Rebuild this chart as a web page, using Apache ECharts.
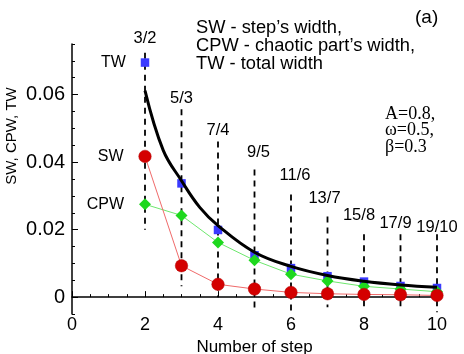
<!DOCTYPE html>
<html>
<head>
<meta charset="utf-8">
<script src="https://cdn.jsdelivr.net/npm/echarts@6.0.0/dist/echarts.min.js"></script>
<style>
  html, body { margin: 0; padding: 0; background: #fff; }
  #chart { width: 464px; height: 354px; }
</style>
</head>
<body>
<div id="chart"></div>
<script>
// step numbers and measured widths
const steps = [2, 3, 4, 5, 6, 7, 8, 9, 10]
const swValues = [0.0417, 0.0093, 0.0038, 0.0024, 0.0014, 0.0010, 0.0008, 0.0007, 0.0005]
const cpwValues = [0.0275, 0.0242, 0.0162, 0.0109, 0.0068, 0.0048, 0.0032, 0.0024, 0.0016]
const twValues = [0.0695, 0.0337, 0.0199, 0.0124, 0.0086, 0.0062, 0.0046, 0.0033, 0.0027]

// smooth fit of the total width
const fitX = [2, 2.5, 3, 3.5, 4, 5, 6, 7, 8, 9, 10]
const fitY = [0.0612, 0.0435, 0.0345, 0.0266, 0.0212, 0.0133, 0.0091, 0.0064, 0.0047, 0.0036, 0.0029]

// dashed resonance markers
const fractions = ['3/2', '5/3', '7/4', '9/5', '11/6', '13/7', '15/8', '17/9', '19/10']
const dashTop = [0.0724, 0.0557, 0.0461, 0.0378, 0.0304, 0.0239, 0.0186, 0.0186, 0.0186]
const dashBottom = [0.0200, 0.0032, 0.0000, -0.0035, -0.0045, -0.0030, -0.0040, -0.0035, -0.0045]

// axis ticks
const xTicks = [0, 2, 4, 6, 8, 10]
const yMajor = [0, 0.02, 0.04, 0.06]
const yMinor = [-0.005, 0, 0.005, 0.01, 0.015, 0.02, 0.025, 0.03, 0.035, 0.04, 0.045, 0.05, 0.055, 0.06, 0.065, 0.07, 0.075]

const sans = 'Liberation Sans'
const serif = 'Liberation Serif'

// label nudges for the fractions (layout only)
const fracShift = [[0, -3], [0, 0], [0, 0], [4, -6], [4, -8], [-3, -7], [-5, -8], [-5, 0], [0, 4]]

const dashSeries = steps.map((x, i) => ({
  type: 'line',
  silent: true,
  symbol: 'circle',
  symbolSize: 1,
  z: 1,
  itemStyle: { color: 'rgba(0,0,0,0)' },
  lineStyle: { color: '#000', width: 1.8, type: [6, 5] },
  data: [
    {
      value: [x, dashTop[i]],
      label: {
        show: true,
        position: 'top',
        distance: 2,
        offset: fracShift[i],
        formatter: fractions[i],
        fontFamily: sans,
        fontSize: 16.5,
        color: '#000'
      }
    },
    [x, dashBottom[i]]
  ]
}))

const sideLabel = (text) => ({
  show: true,
  position: 'left',
  distance: 15,
  formatter: text,
  fontFamily: sans,
  fontSize: 16,
  color: '#000'
})

const withFirstLabel = (values, text) => values.map((v, i) => {
  if (i === 0) return { value: [steps[i], v], label: sideLabel(text) }
  return [steps[i], v]
})

const chart = echarts.init(document.getElementById('chart'))

chart.setOption({
  animation: false,
  backgroundColor: '#fff',
  title: [
    {
      text: 'SW - step’s width,\nCPW - chaotic part’s width,\nTW - total width',
      left: 196,
      top: 19,
      padding: 0,
      textStyle: { fontFamily: sans, fontSize: 18.3, lineHeight: 18, fontWeight: 'normal', color: '#000' }
    },
    {
      text: '(a)',
      left: 415,
      top: 8,
      padding: 0,
      textStyle: { fontFamily: sans, fontSize: 19, fontWeight: 'normal', color: '#000' }
    },
    {
      text: 'A=0.8,\nω=0.5,\nβ=0.3',
      left: 385,
      top: 106,
      padding: 0,
      textStyle: { fontFamily: serif, fontSize: 18, lineHeight: 16.5, fontWeight: 'normal', color: '#000' }
    }
  ],
  graphic: [{
    type: 'text',
    x: 12,
    y: 136,
    rotation: Math.PI / 2,
    style: {
      text: 'SW, CPW, TW',
      fontFamily: sans,
      fontSize: 15,
      fill: '#000',
      align: 'center',
      verticalAlign: 'middle'
    }
  }],
  grid: { left: 72, right: 27, top: 44, bottom: 40, outerBoundsMode: 'none', containLabel: false },
  xAxis: {
    type: 'value',
    min: 0,
    max: 10,
    interval: 2,
    name: 'Number of step',
    nameLocation: 'middle',
    nameGap: 16,
    nameTextStyle: { fontFamily: sans, fontSize: 17, color: '#000' },
    axisLine: { lineStyle: { color: '#000', width: 1.5 } },
    axisTick: { inside: true, length: 6, lineStyle: { color: '#000', width: 1 } },
    minorTick: { show: true, splitNumber: 4, length: 3, lineStyle: { color: '#000', width: 1 } },
    axisLabel: {
      customValues: xTicks,
      margin: 2,
      fontFamily: sans,
      fontSize: 18,
      color: '#000'
    },
    splitLine: { show: false }
  },
  yAxis: [
    {
      type: 'value',
      min: -0.005,
      max: 0.075,
      axisLine: { show: true, lineStyle: { color: '#000', width: 1.5 } },
      axisTick: { show: true, inside: true, length: 6, customValues: yMajor, lineStyle: { color: '#000', width: 1 } },
      axisLabel: {
        customValues: yMajor,
        margin: 7,
        fontFamily: sans,
        fontSize: 20,
        color: '#000',
        formatter: (v) => (v === 0 ? '0' : String(v))
      },
      splitLine: { show: false }
    },
    {
      type: 'value',
      min: -0.005,
      max: 0.075,
      position: 'left',
      axisLine: { show: false },
      axisTick: { show: true, inside: true, length: 3, customValues: yMinor, lineStyle: { color: '#000', width: 1 } },
      axisLabel: { show: false },
      splitLine: { show: false }
    }
  ],
  series: [
    ...dashSeries,
    {
      name: 'SW',
      type: 'line',
      z: 4,
      symbol: 'circle',
      symbolSize: 12.5,
      itemStyle: { color: '#d40000', borderColor: '#b00000', borderWidth: 0.5 },
      lineStyle: { color: '#f06a6a', width: 1 },
      data: withFirstLabel(swValues, 'SW')
    },
    {
      name: 'CPW',
      type: 'line',
      z: 3,
      symbol: 'diamond',
      symbolSize: 12,
      itemStyle: { color: '#1ed81e' },
      lineStyle: { color: '#6ee86e', width: 1 },
      data: withFirstLabel(cpwValues, 'CPW')
    },
    {
      name: 'TW',
      type: 'scatter',
      z: 2,
      symbol: 'rect',
      symbolSize: 8.5,
      itemStyle: { color: '#3a3aff', opacity: 1 },
      data: withFirstLabel(twValues, 'TW')
    },
    {
      name: 'fit',
      type: 'line',
      z: 5,
      smooth: 0.4,
      symbol: 'none',
      lineStyle: { color: '#000', width: 3 },
      data: fitX.map((x, i) => [x, fitY[i]])
    }
  ]
})
</script>
</body>
</html>
